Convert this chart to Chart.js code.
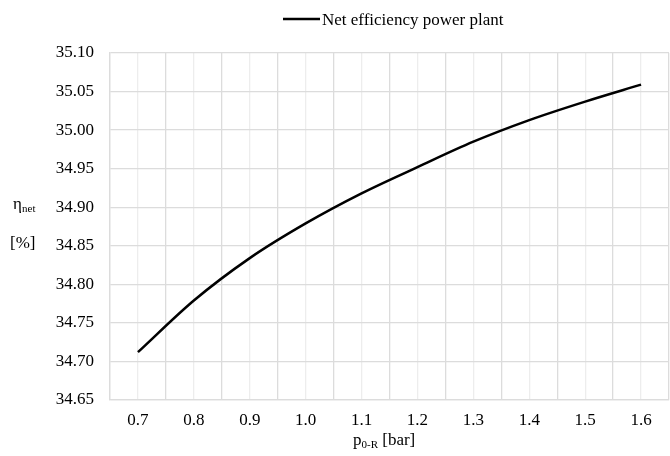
<!DOCTYPE html>
<html>
<head>
<meta charset="utf-8">
<script src="https://cdn.jsdelivr.net/npm/chart.js@4"></script>
<style>
html,body{margin:0;padding:0;background:#fff;}
#wrap{width:670px;height:456px;}
</style>
</head>
<body>
<div id="wrap"><canvas id="c" width="670" height="456"></canvas></div>
<script>
const xValues = [0.7, 0.8, 0.9, 1.0, 1.1, 1.2, 1.3, 1.4, 1.5, 1.6];
const xLabels = ['0.7','0.8','0.9','1.0','1.1','1.2','1.3','1.4','1.5','1.6'];
const netEfficiency = [34.712, 34.779, 34.834, 34.879, 34.918, 34.952, 34.985, 35.013, 35.037, 35.059];
const yTicks = [34.65, 34.70, 34.75, 34.80, 34.85, 34.90, 34.95, 35.00, 35.05, 35.10];
const seriesName = 'Net efficiency power plant';

const FONT = '"Liberation Serif", "Times New Roman", serif';

const titlesPlugin = {
  id: 'titles',
  afterDraw(chart) {
    const ctx = chart.ctx;
    ctx.save();
    ctx.fillStyle = '#000';
    ctx.textBaseline = 'alphabetic';
    // legend
    ctx.strokeStyle = '#000';
    ctx.lineWidth = 2.5;
    ctx.beginPath();
    ctx.moveTo(283, 19);
    ctx.lineTo(320, 19);
    ctx.stroke();
    ctx.font = '17px ' + FONT;
    ctx.textAlign = 'left';
    ctx.fillText(seriesName, 322, 25);
    // y title
    ctx.font = '17px ' + FONT;
    ctx.fillText('\u03B7', 13, 209);
    ctx.font = '11px ' + FONT;
    ctx.fillText('net', 22, 212);
    ctx.font = '17px ' + FONT;
    ctx.fillText('[%]', 10, 248);
    // x title
    const x0 = 353;
    ctx.font = '17px ' + FONT;
    ctx.fillText('p', x0, 445);
    let w = ctx.measureText('p').width;
    ctx.font = '11px ' + FONT;
    ctx.fillText('0-R', x0 + w, 448);
    let w2 = ctx.measureText('0-R').width;
    ctx.font = '17px ' + FONT;
    ctx.fillText(' [bar]', x0 + w + w2, 445);
    ctx.restore();
  }
};

new Chart(document.getElementById('c'), {
  type: 'line',
  data: {
    datasets: [{
      label: seriesName,
      data: xValues.map((x, i) => ({x: x, y: netEfficiency[i]})),
      borderColor: '#000',
      backgroundColor: '#000',
      borderWidth: 2.5,
      pointRadius: 0,
      tension: 0.4,
      cubicInterpolationMode: 'monotone',
      fill: false
    }]
  },
  options: {
    responsive: false,
    animation: false,
    layout: {padding: {top: 53, right: 1, left: 0, bottom: 0}},
    plugins: {legend: {display: false}, tooltip: {enabled: false}},
    scales: {
      x: {
        type: 'linear',
        min: 0.65,
        max: 1.65,
        afterBuildTicks(scale) {
          const t = [];
          xValues.forEach(v => { t.push({value: +(v - 0.05).toFixed(2)}); t.push({value: v}); });
          t.push({value: 1.65});
          scale.ticks = t;
        },
        afterFit(scale) { scale.height = 56; scale.paddingRight = 0; scale.paddingLeft = 0; },
        ticks: {
          autoSkip: false,
          maxRotation: 0,
          padding: 10,
          color: '#000',
          font: {family: FONT, size: 17},
          callback(v) {
            const i = xValues.findIndex(x => Math.abs(x - v) < 1e-6);
            return i >= 0 ? xLabels[i] : '';
          }
        },
        grid: {
          drawTicks: false,
          lineWidth: 1.3,
          color(ctx) {
            const v = ctx.tick ? ctx.tick.value : 0;
            const isCenter = xValues.some(x => Math.abs(x - v) < 1e-6);
            return isCenter ? '#ededed' : '#dcdcdc';
          }
        },
        border: {color: '#dcdcdc', width: 1.3}
      },
      y: {
        min: 34.65,
        max: 35.10,
        afterBuildTicks(scale) { scale.ticks = yTicks.map(v => ({value: v})); },
        afterFit(scale) { scale.width = 110; scale.paddingTop = 0; scale.paddingBottom = 0; },
        ticks: {
          padding: 16,
          color: '#000',
          font: {family: FONT, size: 17},
          callback(v) { return Number(v).toFixed(2); }
        },
        grid: {drawTicks: false, color: '#dcdcdc', lineWidth: 1.3},
        border: {color: '#dcdcdc', width: 1.3}
      }
    }
  },
  plugins: [titlesPlugin]
});
</script>
</body>
</html>
